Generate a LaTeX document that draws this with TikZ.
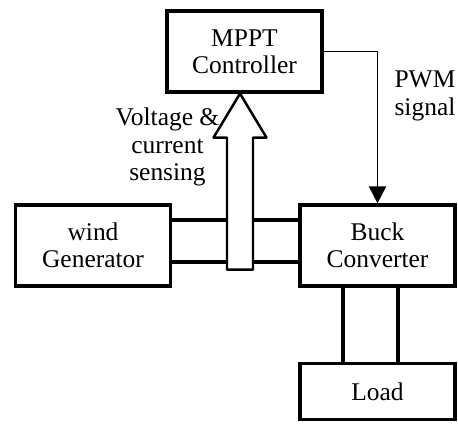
\documentclass[tikz,border=0pt]{standalone}
\usepackage{fontspec}
\setmainfont{Liberation Serif}
\usetikzlibrary{arrows.meta}
\tikzset{
  blockbox/.style={draw=black,line width=1.8pt,fill=white,minimum width=3.1cm,minimum height=1.62cm,align=center,inner sep=0pt},
  powerline/.style={black,line width=1.8pt},
  signalline/.style={black,line width=1pt},
  sensearrow/.style={draw=black,fill=white,line width=1.4pt,line join=round},
}
\begin{document}
\begin{tikzpicture}[font=\fontsize{14.5}{15.5}\selectfont]
\useasboundingbox (0,0) rectangle (9.16,8.5);
\node[blockbox] (mppt) at (4.89,7.47) {MPPT\\Controller};
\node[blockbox] (wind) at (1.86,3.59) {wind\\Generator};
\node[blockbox] (buck) at (7.55,3.59) {Buck\\Converter};
\node[blockbox,minimum height=1.12cm] (load) at (7.55,0.67) {Load};
\draw[powerline] ([yshift=0.51cm]wind.east) -- ([yshift=0.51cm]buck.west);
\draw[powerline] ([yshift=-0.33cm]wind.east) -- ([yshift=-0.33cm]buck.west);
\draw[powerline] ([xshift=-0.69cm]buck.south) -- ([xshift=-0.69cm]load.north);
\draw[powerline] ([xshift=0.41cm]buck.south) -- ([xshift=0.41cm]load.north);
\draw[signalline,-{Triangle[length=0.34cm,width=0.34cm]}] (mppt.east) -| (buck.north);
\coordinate (tip) at (4.80,0 |- mppt.south);
\draw[sensearrow] (tip) -- ++(0.53,-0.88) -- ++(-0.27,0) -- ++(0,-2.64) -- ++(-0.52,0)
  -- ++(0,2.64) -- ++(-0.27,0) -- cycle;
\node[align=center] (sensing) at (3.35,5.56) {Voltage \&\\current\\sensing};
\node[align=center] (pwm) at (8.50,6.58) {PWM\\signal};
\end{tikzpicture}
\end{document}
